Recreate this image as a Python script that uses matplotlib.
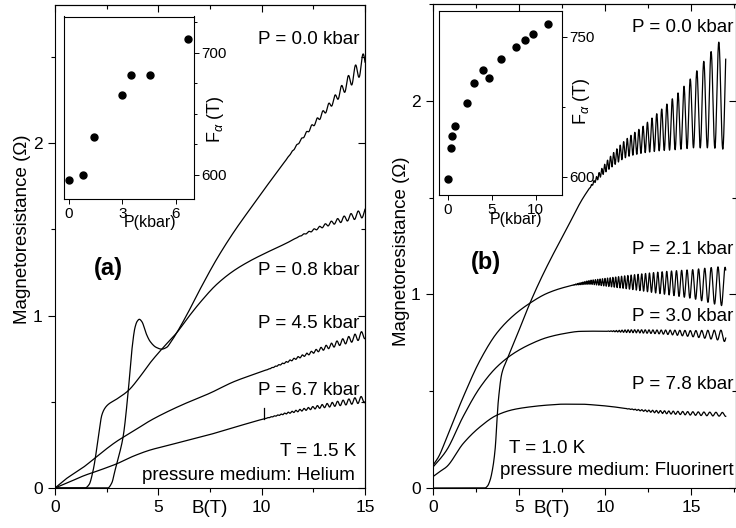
import numpy as np
import matplotlib.pyplot as plt
from matplotlib.ticker import MultipleLocator

plt.rcParams['font.family'] = ['Liberation Sans', 'DejaVu Sans']
plt.rcParams['mathtext.fontset'] = 'custom'
plt.rcParams['mathtext.rm'] = 'Liberation Sans'
plt.rcParams['mathtext.it'] = 'Liberation Sans:italic'

# ---- data, panel (a): helium medium, T = 1.5 K
# smooth background (B in T, R in Ohm)
a00_B = [0, 2.55, 2.75, 2.9, 3.1, 3.3, 3.55, 3.71, 3.87, 3.97, 4.08, 4.2, 4.43, 4.6, 4.9,
         5.16, 5.4, 5.6, 5.89, 6.45, 7.01, 7.82, 8.63, 9.43, 10.24, 11.21, 11.85, 13.47, 15.0]
a00_R = [0, 0, 0.03, 0.1, 0.19, 0.3, 0.57, 0.79, 0.93, 0.965, 0.978, 0.965, 0.89, 0.85, 0.815,
         0.805, 0.815, 0.845, 0.9, 1.02, 1.15, 1.326, 1.48, 1.616, 1.75, 1.907, 2.01, 2.245, 2.475]
a08_B = [0, 1.45, 1.65, 1.85, 2.1, 2.26, 2.4, 2.58, 2.98, 3.55, 4.11, 4.6, 5.24, 5.89, 6.45,
         7.01, 7.82, 8.63, 9.43, 10.24, 11.21, 11.85, 13.47, 15.0]
a08_R = [0, 0, 0.02, 0.105, 0.295, 0.42, 0.46, 0.485, 0.515, 0.565, 0.645, 0.725, 0.815, 0.9,
         0.99, 1.074, 1.18, 1.258, 1.316, 1.365, 1.42, 1.46, 1.54, 1.595]
a45_B = [0, 0.5, 1.37, 2.2, 2.98, 3.8, 4.6, 5.4, 6.21, 7.5, 8.63, 10.24, 11.85, 13.47, 15.0]
a45_R = [0, 0.05, 0.12, 0.2, 0.27, 0.33, 0.39, 0.44, 0.485, 0.55, 0.615, 0.685, 0.76, 0.83, 0.89]
a67_B = [0, 0.7, 1.37, 2.2, 2.98, 3.8, 4.6, 5.4, 6.21, 7.5, 8.63, 10.24, 11.85, 13.47, 15.0]
a67_R = [0, 0.035, 0.07, 0.105, 0.14, 0.185, 0.22, 0.245, 0.27, 0.31, 0.35, 0.405, 0.45, 0.485,
         0.515]
# the short glitch on the 6.7 kbar trace
a67_spike_B, a67_spike_top = 10.1, 0.465
# half peak-to-peak of the quantum oscillations
a00_ampB, a00_amp = [11.0, 12.0, 13.5, 15.0], [0, 0.006, 0.02, 0.058]
a08_ampB, a08_amp = [11.5, 13.0, 15.0], [0, 0.008, 0.025]
a45_ampB, a45_amp = [10.0, 12.5, 15.0], [0, 0.008, 0.024]
a67_ampB, a67_amp = [10.0, 12.5, 15.0], [0, 0.008, 0.02]
# inset (a): F_alpha vs pressure
ina_P = [0, 0.77, 1.41, 2.98, 3.49, 4.56, 6.71]
ina_F = [596, 600, 631, 665, 682, 682, 711]

# ---- data, panel (b): Fluorinert medium, T = 1.0 K
b00_B = [0, 3.0, 3.15, 3.3, 3.45, 3.59, 3.78, 3.98, 4.27, 4.85, 5.23, 5.62, 6.2, 6.78, 7.76,
         8.72, 9.69, 10.27, 11.24, 12.2, 13.17, 14.14, 15.1, 16.67, 17.0]
b00_R = [0, 0, 0.01, 0.04, 0.1, 0.196, 0.45, 0.59, 0.66, 0.785, 0.87, 0.955, 1.07, 1.175, 1.34,
         1.5, 1.62, 1.68, 1.756, 1.8, 1.845, 1.89, 1.943, 2.03, 2.04]
b21_B = [0, 0.3, 0.78, 1.74, 2.72, 3.69, 4.65, 5.62, 6.6, 7.56, 8.53, 9.3, 10.5, 11.24, 13.17,
         15.1, 16.65, 17.0]
b21_R = [0.12, 0.16, 0.26, 0.47, 0.66, 0.8, 0.89, 0.955, 1.005, 1.035, 1.055, 1.063, 1.063, 1.063,
         1.06, 1.053, 1.043, 1.04]
b30_B = [0, 0.3, 0.78, 1.74, 2.72, 3.69, 4.65, 5.62, 6.6, 7.56, 8.53, 9.3, 10.5, 11.24, 13.17,
         15.1, 16.65, 17.0]
b30_R = [0.11, 0.14, 0.196, 0.37, 0.52, 0.625, 0.694, 0.742, 0.777, 0.797, 0.809, 0.81, 0.81,
         0.81, 0.806, 0.797, 0.789, 0.785]
b78_B = [0, 0.3, 0.78, 1.74, 2.72, 3.69, 4.65, 5.62, 6.6, 7.56, 8.53, 9.5, 10.5, 11.4, 13.17,
         15.1, 17.0]
b78_R = [0.06, 0.08, 0.11, 0.23, 0.316, 0.376, 0.405, 0.419, 0.428, 0.433, 0.433, 0.428, 0.419,
         0.408, 0.393, 0.385, 0.38]
b00_ampB = [9.0, 10.27, 11.24, 12.2, 13.17, 14.14, 15.1, 16.67, 17.0]
b00_amp = [0, 0.03, 0.047, 0.069, 0.103, 0.142, 0.186, 0.28, 0.29]
b21_ampB, b21_amp = [8.0, 9.3, 11.24, 13.17, 15.1, 16.65, 17.0], [0, 0.012, 0.034, 0.056, 0.075, 0.1, 0.1]
b30_ampB, b30_amp = [10.0, 11.24, 13.17, 15.1, 16.65, 17.0], [0, 0.007, 0.01, 0.016, 0.026, 0.03]
b78_ampB, b78_amp = [11.0, 13.17, 15.1, 17.0], [0, 0.007, 0.009, 0.01]
# inset (b)
inb_P = [0.0, 0.39, 0.5, 0.77, 2.14, 2.9, 3.97, 4.65, 6.02, 7.69, 8.72, 9.67, 11.41]
inb_F = [597.5, 631, 644, 654.6, 679.3, 701, 714.3, 706, 726.4, 738.6, 746.1, 752.9, 763.3]

lab_a = ["P = 0.0 kbar", "P = 0.8 kbar", "P = 4.5 kbar", "P = 6.7 kbar"]
lab_b = ["P = 0.0 kbar", "P = 2.1 kbar", "P = 3.0 kbar", "P = 7.8 kbar"]


def smooth(x, xp, yp):
    # monotone cubic (Fritsch-Carlson) through the read points
    xp = np.asarray(xp, float)
    yp = np.asarray(yp, float)
    h = np.diff(xp)
    d = np.diff(yp) / h
    m = np.zeros_like(yp)
    for k in range(1, len(xp) - 1):
        if d[k - 1] * d[k] > 0:
            w1 = 2 * h[k] + h[k - 1]
            w2 = h[k] + 2 * h[k - 1]
            m[k] = (w1 + w2) / (w1 / d[k - 1] + w2 / d[k])
    m[0], m[-1] = d[0], d[-1]
    i = np.clip(np.searchsorted(xp, x) - 1, 0, len(h) - 1)
    t = (x - xp[i]) / h[i]
    return ((2 * t**3 - 3 * t**2 + 1) * yp[i] + (t**3 - 2 * t**2 + t) * h[i] * m[i]
            + (-2 * t**3 + 3 * t**2) * yp[i + 1] + (t**3 - t**2) * h[i] * m[i + 1])


def trace(Bn, Rn, ampB, amp, F):
    # background plus SdH wiggle at the frequency
    B = np.linspace(0, Bn[-1], 14000)
    bg = smooth(B, Bn, Rn)
    a = np.interp(B, ampB, amp, left=0)
    return B, bg + a * np.cos(2 * np.pi * F / np.maximum(B, 0.1))


def style_main(ax, xmax, ymax, lab_y):
    ax.set_xlim(0, xmax)
    ax.set_ylim(0, ymax)
    ax.xaxis.set_major_locator(MultipleLocator(5))
    ax.xaxis.set_minor_locator(MultipleLocator(2.5))
    ax.yaxis.set_major_locator(MultipleLocator(1))
    ax.yaxis.set_minor_locator(MultipleLocator(0.5))
    ax.tick_params(which='both', direction='out', labelsize=12.5, pad=4, width=0.8)
    ax.tick_params(which='major', length=5)
    ax.tick_params(which='minor', length=3)
    sx = ax.secondary_xaxis('top')
    sx.xaxis.set_major_locator(MultipleLocator(5))
    sx.xaxis.set_minor_locator(MultipleLocator(2.5))
    sy = ax.secondary_yaxis('right')
    sy.yaxis.set_major_locator(MultipleLocator(1))
    sy.yaxis.set_minor_locator(MultipleLocator(0.5))
    for sec in (sx, sy):
        sec.tick_params(which='both', direction='in', width=0.8,
                        labeltop=False, labelright=False)
        sec.tick_params(which='major', length=5)
        sec.tick_params(which='minor', length=3)
    ax.text(-0.104, lab_y, "Magnetoresistance (\u03a9)", rotation=90, fontsize=13.5,
            ha='center', va='center', transform=ax.transAxes)


def style_inset(ax, xlim, ylim, xmaj, ymaj, ymin):
    ax.set_xlim(*xlim)
    ax.set_ylim(*ylim)
    ax.xaxis.set_major_locator(MultipleLocator(xmaj))
    ax.yaxis.set_major_locator(MultipleLocator(ymaj))
    ax.yaxis.set_minor_locator(MultipleLocator(ymin))
    ax.yaxis.tick_right()
    ax.tick_params(which='both', direction='out', labelsize=11, pad=2, width=0.7)
    ax.tick_params(which='major', length=3.5)
    ax.tick_params(which='minor', length=2)
    for sp in ax.spines.values():
        sp.set_linewidth(0.8)


fig = plt.figure(figsize=(7.36, 5.28), dpi=100)
ax_a = fig.add_axes([55 / 736, 40 / 528, 310 / 736, 483 / 528])
ax_b = fig.add_axes([433.3 / 736, 40 / 528, 302.2 / 736, 484 / 528])

# panel (a)
fa = lambda p: np.interp(p, ina_P, ina_F)
for Bn, Rn, aB, am, p in [(a00_B, a00_R, a00_ampB, a00_amp, 0.0),
                          (a08_B, a08_R, a08_ampB, a08_amp, 0.8),
                          (a45_B, a45_R, a45_ampB, a45_amp, 4.5),
                          (a67_B, a67_R, a67_ampB, a67_amp, 6.7)]:
    B, R = trace(Bn, Rn, aB, am, fa(p))
    ax_a.plot(B, R, color='black', lw=0.9)
spike_base = smooth(np.array([a67_spike_B]), a67_B, a67_R)[0]
ax_a.plot([a67_spike_B, a67_spike_B], [spike_base, a67_spike_top], color='black', lw=0.9)
style_main(ax_a, 15, 2.8, 0.536)
for lab, y in zip(lab_a, [2.6, 1.258, 0.952, 0.564]):
    ax_a.text(14.75, y, lab, fontsize=13.5, ha='right', va='center')
ax_a.text(14.56, 0.214, "T = 1.5 K", fontsize=13.5, ha='right', va='center')
ax_a.text(14.5, 0.072, "pressure medium: Helium", fontsize=13.5, ha='right', va='center')
ax_a.text(2.58, 1.272, "(a)", fontsize=17, fontweight='bold', ha='center', va='center')
ax_a.text(7.5, -0.042, "B(T)", fontsize=13.5, ha='center', va='center',
          transform=ax_a.get_xaxis_transform())

# panel (b)
fb = lambda p: np.interp(p, inb_P, inb_F)
for Bn, Rn, aB, am, p in [(b00_B, b00_R, b00_ampB, b00_amp, 0.0),
                          (b21_B, b21_R, b21_ampB, b21_amp, 2.1),
                          (b30_B, b30_R, b30_ampB, b30_amp, 3.0),
                          (b78_B, b78_R, b78_ampB, b78_amp, 7.8)]:
    B, R = trace(Bn, Rn, aB, am, fb(p))
    ax_b.plot(B, R, color='black', lw=0.9)
style_main(ax_b, 17.57, 2.5, 0.49)
for lab, y in zip(lab_b, [2.377, 1.233, 0.885, 0.536]):
    ax_b.text(17.44, y, lab, fontsize=13.5, ha='right', va='center')
ax_b.text(6.59, 0.204, "T = 1.0 K", fontsize=13.5, ha='center', va='center')
ax_b.text(17.44, 0.09, "pressure medium: Fluorinert", fontsize=13.5, ha='right', va='center')
ax_b.text(3.05, 1.164, "(b)", fontsize=17, fontweight='bold', ha='center', va='center')
ax_b.text(6.88, -0.042, "B(T)", fontsize=13.5, ha='center', va='center',
          transform=ax_b.get_xaxis_transform())

# insets
in_a = fig.add_axes([64 / 736, 1 - 199 / 528, 129.5 / 736, 182.5 / 528])
in_a.plot(ina_P, ina_F, 'o', color='black', ms=5)
style_inset(in_a, (-0.27, 7.0), (580.4, 729.4), 3, 100, 25)
in_a.text(0.662, -0.13, "P(kbar)", fontsize=11.5, ha='center', va='center', transform=in_a.transAxes)
in_a.text(1.17, 0.44, r"F$_\alpha$ (T)", fontsize=13, rotation=90, ha='center', va='center',
          transform=in_a.transAxes)

in_b = fig.add_axes([439.3 / 736, 1 - 195 / 528, 122.4 / 736, 184.3 / 528])
in_b.plot(inb_P, inb_F, 'o', color='black', ms=5)
style_inset(in_b, (-1.0, 12.95), (580.4, 778), 5, 150, 75)
in_b.text(0.625, -0.135, "P(kbar)", fontsize=11.5, ha='center', va='center', transform=in_b.transAxes)
in_b.text(1.16, 0.51, r"F$_\alpha$ (T)", fontsize=13, rotation=90, ha='center', va='center',
          transform=in_b.transAxes)

fig.savefig("out.png", dpi=100)
